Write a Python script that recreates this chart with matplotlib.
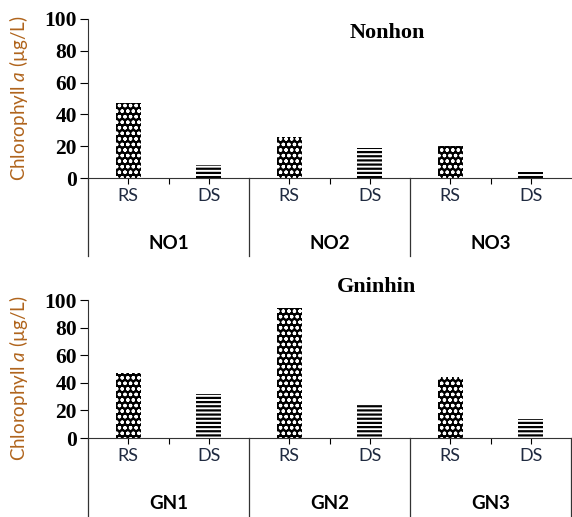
import matplotlib
matplotlib.use("Agg")
import matplotlib.pyplot as plt
import numpy as np

# values (Chlorophyll a, µg/L)
seasons = ['RS', 'DS']
sites_nonhon = ['NO1', 'NO2', 'NO3']
rs_nonhon = [47, 26, 20]
ds_nonhon = [8, 19, 4]
sites_gninhin = ['GN1', 'GN2', 'GN3']
rs_gninhin = [47, 94, 44]
ds_gninhin = [32, 25, 14]
yticks = [0, 20, 40, 60, 80, 100]

plt.rcParams['mathtext.fontset'] = 'custom'
plt.rcParams['mathtext.it'] = 'Lato:italic'
plt.rcParams['mathtext.rm'] = 'Lato'

W, H = 572, 517
fig = plt.figure(figsize=(W / 100, H / 100), dpi=100)


def panel(rect, title, title_xy, sites, rs, ds, line_len, label_y):
    ax = fig.add_axes(rect)
    n = len(sites)
    xs = np.arange(n) * 2
    with plt.rc_context({'hatch.linewidth': 0.9}):
        ax.bar(xs + 0.5, rs, width=0.31, facecolor='black', edgecolor='white',
               linewidth=0, hatch='ooo')
    with plt.rc_context({'hatch.linewidth': 1.6}):
        ax.bar(xs + 1.5, ds, width=0.31, facecolor='white', edgecolor='black',
               linewidth=0, hatch='----')
    ax.set_xlim(0, 2 * n)
    ax.set_ylim(0, 100)
    ax.set_yticks(yticks)
    ax.set_yticklabels([str(v) for v in yticks], family='Liberation Serif',
                       fontweight='bold', fontsize=15.5)
    ax.set_xticks(np.concatenate([xs + 0.5, xs + 1.5]))
    ax.set_xticklabels(seasons[:1] * n + seasons[1:] * n, family='Lato',
                       fontsize=13, color='#1f2a40')
    ax.set_xticks(xs + 1, minor=True)
    ax.tick_params(axis='x', which='both', length=4, width=0.8, pad=3)
    ax.tick_params(axis='y', length=6, width=0.8, pad=2)
    for s in ['top', 'right']:
        ax.spines[s].set_visible(False)
    ax.spines['left'].set_color('#333333')
    ax.spines['bottom'].set_color('#333333')
    trans = ax.get_xaxis_transform()
    for x in list(xs) + ([2 * n] if line_len[1] else []):
        ax.plot([x, x], [0, -line_len[0]], transform=trans, color='#333333',
                lw=0.9, clip_on=False)
    for i, name in enumerate(sites):
        ax.annotate(name, xy=(xs[i] + 1, 0), xycoords=trans, xytext=(0, -47),
                    textcoords='offset points', ha='center', va='center',
                    family='Lato', fontweight='bold', fontsize=13.5)
    fig.text(title_xy[0], title_xy[1], title, family='Liberation Serif',
             fontweight='bold', fontsize=16, ha='center', va='center')
    fig.text(19 / W, label_y, r'Chlorophyll $\mathit{a}$ (µg/L)', family='Lato',
             fontsize=13.5, color='#b0641c', rotation=90, ha='center', va='center')
    return ax


panel([88 / W, 1 - 178 / H, 483 / W, 159 / H], 'Nonhon', (387 / W, 1 - 33 / H),
      sites_nonhon, rs_nonhon, ds_nonhon, (0.49, False), 1 - 98 / H)
panel([88 / W, 1 - 438 / H, 483 / W, 138 / H], 'Gninhin', (377 / W, 1 - 287 / H),
      sites_gninhin, rs_gninhin, ds_gninhin, (0.6, True), 1 - 378 / H)

fig.savefig('out.png', dpi=100)
